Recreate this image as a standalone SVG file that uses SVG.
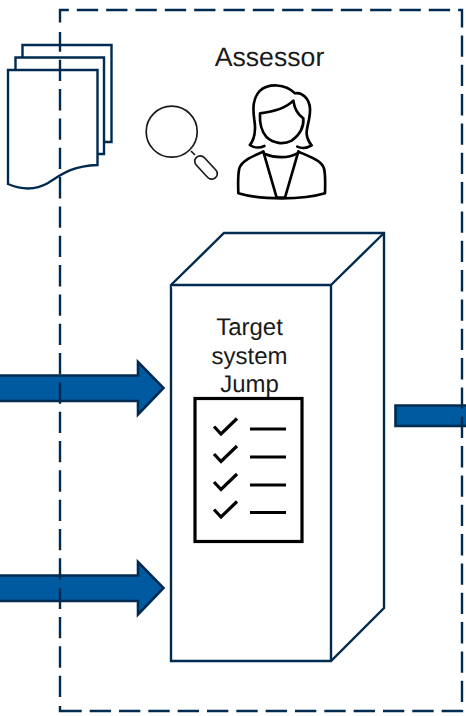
<svg xmlns="http://www.w3.org/2000/svg" width="466" height="716" viewBox="0 0 466 716">
<style>
.ln{fill:#fff;stroke:#002b50;stroke-width:2.4}
.arrow{fill:#005aa0;stroke:#002b50;stroke-width:2.6}
.blk{fill:none;stroke:#000;stroke-linecap:round;stroke-linejoin:round}
.dash{fill:none;stroke:#002b50;stroke-width:2.4;stroke-dasharray:21.33 8}
text{font-family:"Liberation Sans",Arial,sans-serif;fill:#1a1a1a;text-anchor:middle;text-rendering:geometricPrecision}
</style>
<g id="documents">
<path class="ln" d="M22.500 45H111.500V142H22.500Z"/>
<path class="ln" d="M15.500 57.500H104V154H15.500Z"/>
<path class="ln" d="M8 70H97.500V165C72 166 62 174 48 183C36 190 22 190 8 184Z"/>
</g>
<g id="magnifier">
<circle cx="171.700" cy="131.700" r="25.500" fill="#fff" stroke="#1a1a1a" stroke-width="1.700"/>
<path d="M191 151L195 155" fill="none" stroke="#1a1a1a" stroke-width="1.700"/>
<rect x="192" y="162" width="28" height="11" rx="5.500" transform="rotate(47 206 167.500)" fill="#fff" stroke="#1a1a1a" stroke-width="1.700"/>
</g>
<g id="assessor">
<text x="269.500" y="65.500" font-size="26.670">Assessor</text>
<g transform="translate(210 30) scale(.3333)">
<path class="blk" stroke-width="8" d="M120 345C135 325 138 300 133 270C128 235 128 205 150 182C175 160 225 160 255 190C275 185 298 205 300 235C302 265 288 295 290 312C292 328 298 338 305 346C292 354 275 356 262 350"/>
<path class="blk" stroke-width="8" d="M120 345C132 354 150 354 163 348"/>
<path class="blk" stroke-width="8" d="M150 250C195 245 230 232 250 212C254 240 265 255 280 265C282 290 268 315 245 332C220 345 190 340 170 322C155 305 148 285 150 250Z"/>
<path class="blk" stroke-width="8" d="M160 365C125 380 95 392 88 415C83 435 84 460 85 490C150 510 280 510 345 490C346 460 347 435 342 415C335 392 300 380 265 365"/>
<path class="blk" stroke-width="8" d="M165 372C195 385 235 385 262 370"/>
<path class="blk" stroke-width="8" d="M160 365L200 503L225 503L265 365"/>
</g>
</g>
<g id="target-system">
<path class="ln" d="M171 285L224 233H384V608L331 661H171Z"/>
<path class="ln" d="M171 285H331V661M331 285L384 233" fill="none"/>
<text x="249.500" y="335" font-size="24">Target</text>
<text x="249.500" y="364" font-size="24">system</text>
<text x="249.500" y="392" font-size="24">Jump</text>
</g>
<g id="checklist">
<rect x="195" y="398.500" width="107" height="143" fill="#fff" stroke="#000" stroke-width="3.200"/>
<g fill="none" stroke="#000" stroke-width="3.200">
<path d="M214 426.500L221 434L237 418.500M214 454L221 461.500L237 446M214 482L221 489.500L237 474M214 509.500L221 517L237 501.500"/>
<path d="M250 429H286M250 457H286M250 485H286M250 512.500H286"/>
</g>
</g>
<g id="connectors">
<path class="arrow" d="M-3 375.500H138V362L163.500 388L138 414.500V401H-3Z"/>
<path class="arrow" d="M-3 575.500H138V562L163.500 588L138 614.500V601H-3Z"/>
<path class="arrow" d="M395.500 405.500H469V426H395.500Z"/>
<path class="dash" d="M60 22.500V10H462V711H81.700"/>
<path class="dash" d="M81.700 711H60V706" style="stroke-dasharray:none"/>
<path class="dash" d="M60 697V32"/>
</g>
</svg>
